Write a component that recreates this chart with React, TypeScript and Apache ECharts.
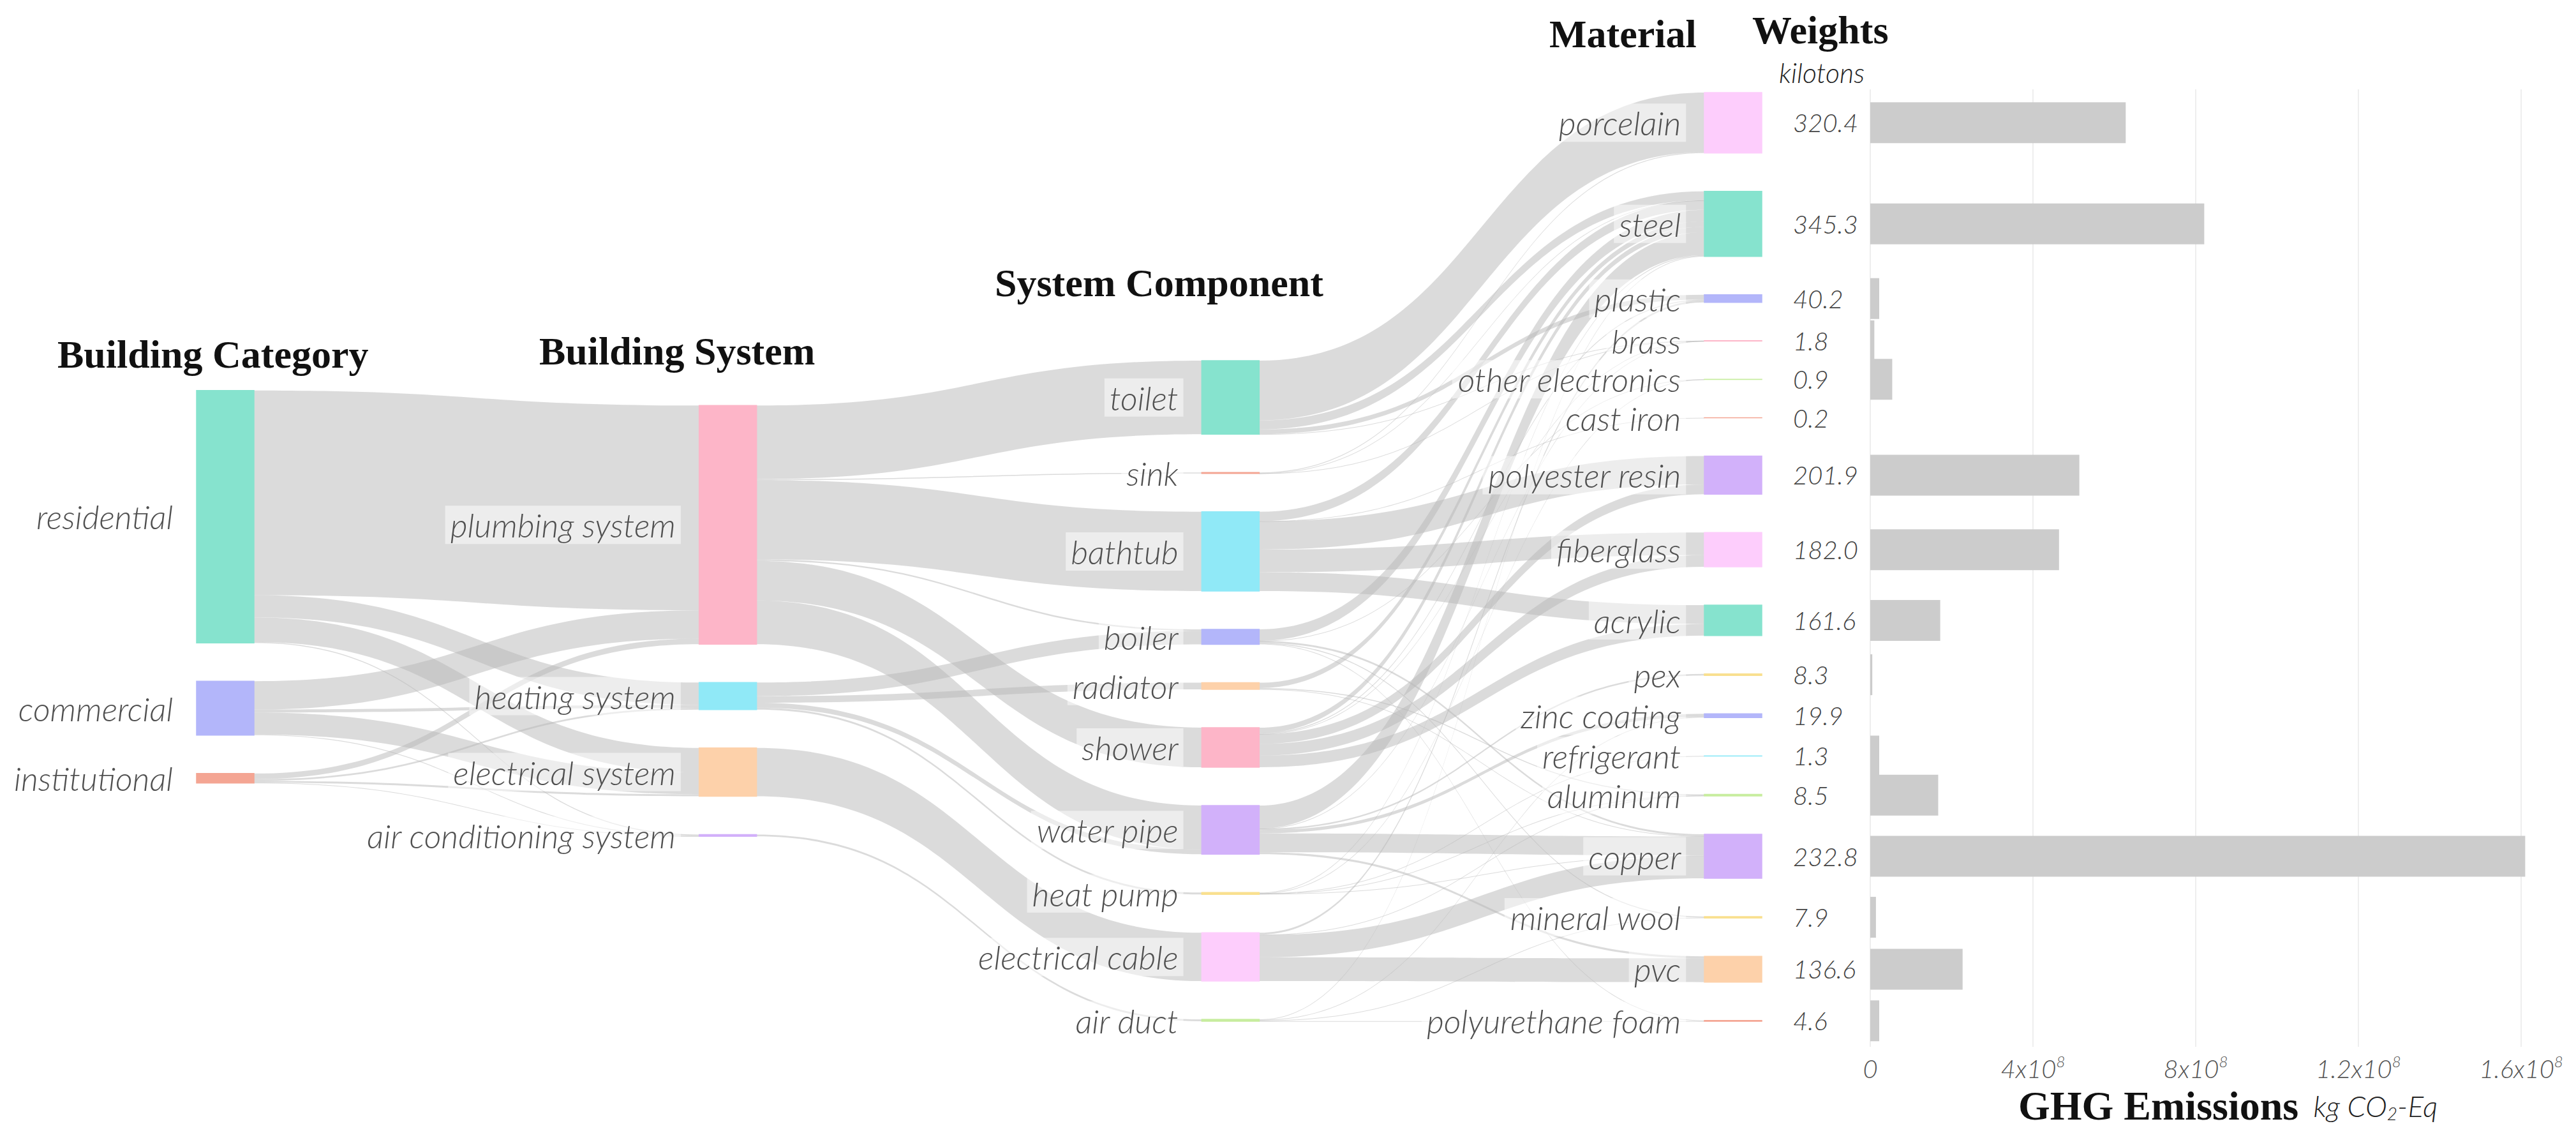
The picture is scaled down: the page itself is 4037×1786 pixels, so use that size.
import React, { useEffect, useRef } from "react";
import * as echarts from "echarts";

// ---------------- DATA ----------------
const categories = ["residential", "commercial", "institutional"];
const systems = ["plumbing system", "heating system", "electrical system", "air conditioning system"];
const components = ["toilet", "sink", "bathtub", "boiler", "radiator", "shower", "water pipe", "heat pump", "electrical cable", "air duct"];
const materials = ["porcelain", "steel", "plastic", "brass", "other electronics", "cast iron", "polyester resin", "fiberglass", "acrylic", "pex", "zinc coating", "refrigerant", "aluminum", "copper", "mineral wool", "pvc", "polyurethane foam"];

// kilotons
const materialWeights = [320.4, 345.3, 40.2, 1.8, 0.9, 0.2, 201.9, 182.0, 161.6, 8.3, 19.9, 1.3, 8.5, 232.8, 7.9, 136.6, 4.6];
// kg CO2-Eq
const ghgEmissions = [6.28e8, 8.21e8, 0.22e8, 0.1e8, 0.54e8, 0, 5.14e8, 4.64e8, 1.72e8, 0.05e8, 0, 0.22e8, 1.67e8, 16.1e8, 0.14e8, 2.27e8, 0.22e8];
const emissionTickLabels = ["0", "4x10{s|8}", "8x10{s|8}", "1.2x10{s|8}", "1.6x10{s|8}"];

const categoryToSystem: [string, string, number][] = [
  ["residential", "plumbing system", 1085],
  ["residential", "heating system", 118],
  ["residential", "electrical system", 130],
  ["residential", "air conditioning system", 5],
  ["commercial", "plumbing system", 150],
  ["commercial", "heating system", 16],
  ["commercial", "electrical system", 116.2],
  ["commercial", "air conditioning system", 4],
  ["institutional", "plumbing system", 30],
  ["institutional", "heating system", 9],
  ["institutional", "electrical system", 10],
  ["institutional", "air conditioning system", 1],
];

const systemToComponent: [string, string, number][] = [
  ["plumbing system", "toilet", 390],
  ["plumbing system", "sink", 5],
  ["plumbing system", "bathtub", 420],
  ["plumbing system", "boiler", 8],
  ["plumbing system", "shower", 210],
  ["plumbing system", "water pipe", 232],
  ["heating system", "boiler", 72],
  ["heating system", "radiator", 35],
  ["heating system", "water pipe", 26],
  ["heating system", "heat pump", 10],
  ["electrical system", "electrical cable", 256.2],
  ["air conditioning system", "air duct", 10],
];

const componentToMaterial: [string, string, number][] = [
  ["toilet", "porcelain", 316.4],
  ["toilet", "steel", 48.1],
  ["toilet", "plastic", 25],
  ["toilet", "brass", 0.5],
  ["sink", "porcelain", 4.0],
  ["sink", "steel", 0.5],
  ["sink", "brass", 0.5],
  ["bathtub", "steel", 49.8],
  ["bathtub", "cast iron", 0.2],
  ["bathtub", "polyester resin", 150],
  ["bathtub", "fiberglass", 120],
  ["bathtub", "acrylic", 100],
  ["boiler", "steel", 61],
  ["boiler", "other electronics", 0.4],
  ["boiler", "copper", 10],
  ["boiler", "mineral wool", 5],
  ["boiler", "polyurethane foam", 3.6],
  ["radiator", "steel", 28.2],
  ["radiator", "aluminum", 5],
  ["radiator", "copper", 1.8],
  ["shower", "steel", 29],
  ["shower", "plastic", 5],
  ["shower", "brass", 0.5],
  ["shower", "polyester resin", 51.9],
  ["shower", "fiberglass", 62],
  ["shower", "acrylic", 61.6],
  ["water pipe", "steel", 121.8],
  ["water pipe", "brass", 0.3],
  ["water pipe", "pex", 8.3],
  ["water pipe", "zinc coating", 17],
  ["water pipe", "copper", 100],
  ["water pipe", "pvc", 10.6],
  ["heat pump", "steel", 3.7],
  ["heat pump", "other electronics", 0.5],
  ["heat pump", "refrigerant", 1.3],
  ["heat pump", "aluminum", 1.5],
  ["heat pump", "copper", 3],
  ["electrical cable", "plastic", 10.2],
  ["electrical cable", "aluminum", 2],
  ["electrical cable", "copper", 118],
  ["electrical cable", "pvc", 126],
  ["air duct", "steel", 3.2],
  ["air duct", "zinc coating", 2.9],
  ["air duct", "mineral wool", 2.9],
  ["air duct", "polyurethane foam", 1.0],
];

// ---------------- STYLES ----------------
const MINT = "#86E3CE", LAV = "#B3B6FA", SALMON = "#F4A593", PINK = "#FDB5C8", CYAN = "#90E9F7",
  PEACH = "#FDD1AA", LILAC = "#D2B1FA", YELLOW = "#F9E08F", MAGENTA = "#FDCDFC", GREEN = "#C7ED9F";

const nodeColors: Record<string, string> = {
  residential: MINT, commercial: LAV, institutional: SALMON,
  "plumbing system": PINK, "heating system": CYAN, "electrical system": PEACH, "air conditioning system": LILAC,
  toilet: MINT, sink: SALMON, bathtub: CYAN, boiler: LAV, radiator: PEACH, shower: PINK, "water pipe": LILAC,
  "heat pump": YELLOW, "electrical cable": MAGENTA, "air duct": GREEN,
  porcelain: MAGENTA, steel: MINT, plastic: LAV, brass: PINK, "other electronics": GREEN, "cast iron": SALMON,
  "polyester resin": LILAC, fiberglass: MAGENTA, acrylic: MINT, pex: YELLOW, "zinc coating": LAV,
  refrigerant: CYAN, aluminum: GREEN, copper: LILAC, "mineral wool": YELLOW, pvc: PEACH, "polyurethane foam": SALMON,
};

const LABEL_FONT = "Lato, 'Open Sans', sans-serif";
const SERIF = "'Liberation Serif', 'Times New Roman', serif";

const SANKEY_LEFT = 308, SANKEY_TOP = 145, SANKEY_W = 2453, SANKEY_H = 1455;
const NODE_GAP = 60, NODE_W = 90;
const GRID_LEFT = 2931, GRID_TOP = 140, GRID_W = 1020, GRID_H = 1500;

const allLinks = [...categoryToSystem, ...systemToComponent, ...componentToMaterial];

// The ECharts sankey depth relaxation (same scale, gap, passes and alpha),
// except that each column keeps its data order instead of being re-sorted.
function orderedSankeyDepths(columns: string[][], links: [string, string, number][], H: number, gap: number) {
  const inE: Record<string, [string, number][]> = {};
  const outE: Record<string, [string, number][]> = {};
  links.forEach(([s, t, v]) => {
    (outE[s] = outE[s] || []).push([t, v]);
    (inE[t] = inE[t] || []).push([s, v]);
  });
  const sum = (a: [string, number][] | undefined) => (a || []).reduce((p, e) => p + e[1], 0);
  const val = (n: string) => Math.max(sum(inE[n]), sum(outE[n]));
  const ky = Math.min(...columns.map((c) => (H - (c.length - 1) * gap) / c.reduce((p, n) => p + val(n), 0)));
  const y: Record<string, number> = {}, dy: Record<string, number> = {};
  columns.forEach((col) => col.forEach((n, i) => { dy[n] = val(n) * ky; y[n] = i; }));
  const center = (n: string) => y[n] + dy[n] / 2;
  const resolveAll = () => columns.forEach((col) => {
    let y0 = 0;
    col.forEach((n) => { if (y[n] < y0) y[n] = y0; y0 = y[n] + dy[n] + gap; });
    if (y0 - gap > H) {
      let yb = H;
      for (let i = col.length - 1; i >= 0; i--) {
        const n = col[i];
        if (y[n] + dy[n] > yb) y[n] = yb - dy[n];
        yb = y[n] - gap;
      }
    }
  });
  const pull = (n: string, edges: [string, number][] | undefined, alpha: number) => {
    if (!edges || !edges.length) return;
    const w = sum(edges);
    const target = edges.reduce((p, [m, v]) => p + center(m) * v, 0) / w;
    y[n] += (target - center(n)) * alpha;
  };
  resolveAll();
  let alpha = 1;
  for (let it = 0; it < 32; it++) {
    alpha *= 0.99;
    for (let c = columns.length - 1; c >= 0; c--) columns[c].forEach((n) => pull(n, outE[n], alpha));
    resolveAll();
    for (let c = 0; c < columns.length; c++) columns[c].forEach((n) => pull(n, inE[n], alpha));
    resolveAll();
  }
  return { y, dy };
}

const depths = orderedSankeyDepths([categories, systems, components, materials], allLinks, SANKEY_H, NODE_GAP);

function buildSankey() {
  const names = [...categories, ...systems, ...components, ...materials];
  const links = allLinks.map(([s, t, v]) => ({ source: s, target: t, value: v }));
  return {
    type: "sankey",
    left: SANKEY_LEFT, top: SANKEY_TOP, width: SANKEY_W, height: SANKEY_H,
    nodeWidth: NODE_W, nodeGap: NODE_GAP, layoutIterations: 0, draggable: false,
    emphasis: { disabled: true },
    silent: true,
    data: names.map((n) => ({
      name: n,
      localY: depths.y[n] / SANKEY_H,
      itemStyle: { color: nodeColors[n], borderColor: nodeColors[n], borderWidth: 1.5 },
    })),
    links,
    lineStyle: { color: "#b8b8b8", opacity: 0.5, curveness: 0.5 },
    label: {
      position: "left", distance: 28, fontFamily: LABEL_FONT, fontStyle: "italic", fontWeight: 300,
      fontSize: 52, color: "#505050", backgroundColor: "rgba(255,255,255,0.5)", padding: [4, 8],
    },
  };
}

function titleText(text: string, x: number, y: number, size = 62, align = "left") {
  return { type: "text", x, y, silent: true, style: { text, font: `bold ${size}px ${SERIF}`, fill: "#111", textAlign: align, verticalAlign: "middle", textVerticalAlign: "middle" } };
}

const graphics = [
  titleText("Building Category", 90, 555),
  titleText("Building System", 845, 550),
  titleText("System Component", 1559, 443),
  titleText("Material", 2428, 53),
  titleText("Weights", 2746, 47),
  { type: "text", x: 2855, y: 113, silent: true, style: { text: "kilotons", font: `italic 300 43px ${LABEL_FONT}`, fill: "#222", textAlign: "center", verticalAlign: "middle", textVerticalAlign: "middle" } },
  {
    type: "text", x: 3163, y: 1732, silent: true,
    style: {
      text: "{t|GHG Emissions}{u|  kg CO}{d|2}{u|-Eq}", textAlign: "left", verticalAlign: "middle", textVerticalAlign: "middle",
      rich: {
        t: { font: `bold 64px ${SERIF}`, fill: "#111", lineHeight: 76 },
        u: { font: `italic 300 46px ${LABEL_FONT}`, fill: "#222", lineHeight: 76 },
        d: { font: `italic 300 28px ${LABEL_FONT}`, fill: "#222", verticalAlign: "bottom", padding: [0, 0, 12, 0] },
      },
    },
  },
];

export default function App() {
  const ref = useRef<HTMLDivElement>(null);
  useEffect(() => {
    const el = ref.current!;
    const chart = echarts.init(el, null, { renderer: "svg" });
    const sankey = buildSankey();
    const centers = materials.map((m) => SANKEY_TOP + depths.y[m] + depths.dy[m] / 2);
    const rows = materials.map((m, i) => [ghgEmissions[i], centers[i], materialWeights[i]]);

    chart.setOption({
      animation: false,
      backgroundColor: "#ffffff",
      graphic: graphics,
      grid: { left: GRID_LEFT, top: GRID_TOP, width: GRID_W, height: GRID_H, containLabel: false, outerBoundsMode: "none" },
      xAxis: {
        type: "value", min: 0, max: 1.6e9, interval: 4e8,
        axisLine: { show: false }, axisTick: { show: false },
        splitLine: { show: true, lineStyle: { color: "#eeeeee", width: 2 } },
        axisLabel: {
          margin: 10, fontFamily: LABEL_FONT, fontStyle: "italic", fontWeight: 300, fontSize: 40, color: "#555", lineHeight: 48,
          formatter: (v: number) => emissionTickLabels[Math.round(v / 4e8)] ?? "",
          rich: { s: { fontFamily: LABEL_FONT, fontStyle: "italic", fontSize: 24, color: "#555", verticalAlign: "top" } },
        },
      },
      yAxis: { type: "value", min: GRID_TOP, max: GRID_TOP + GRID_H, inverse: true, show: false, splitLine: { show: false } },
      series: [
        sankey,
        {
          type: "custom", coordinateSystem: "cartesian2d", silent: true, clip: false,
          data: rows,
          renderItem: (params: any, api: any) => {
            const v = api.value(0), y = api.value(1);
            const p0 = api.coord([0, y]);
            const p1 = api.coord([v, y]);
            const h = 64;
            return { type: "rect", shape: { x: p0[0], y: p0[1] - h / 2, width: Math.max(0, p1[0] - p0[0]), height: h }, style: { fill: "#cccccc" } };
          },
        },
        {
          type: "custom", coordinateSystem: "cartesian2d", silent: true, clip: false,
          data: rows,
          renderItem: (params: any, api: any) => {
            const y = api.value(1);
            const p0 = api.coord([0, y]);
            return {
              type: "text", x: p0[0] - 121, y: p0[1],
              style: { text: Number(api.value(2)).toFixed(1), font: `italic 300 40px ${LABEL_FONT}`, fill: "#444", textAlign: "left", verticalAlign: "middle", textVerticalAlign: "middle" },
            };
          },
        },
      ],
    });
    return () => chart.dispose();
  }, []);
  return <div ref={ref} style={{ position: "fixed", left: 0, top: 0, width: 4037, height: 1786, background: "#fff" }} />;
}
